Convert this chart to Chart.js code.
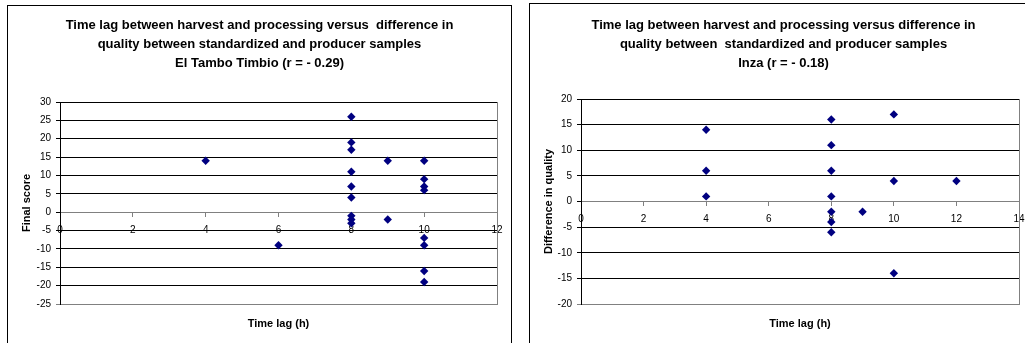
<!DOCTYPE html>
<html>
<head>
<meta charset="utf-8">
<script src="https://cdn.jsdelivr.net/npm/chart.js@4.4.1/dist/chart.umd.min.js"></script>
<style>
    body { margin: 0; background: #fff; overflow: hidden; }
    .chart-box { position: absolute; border: 1px solid #000; background: #fff; }
    #boxTambo { left: 7px; top: 5px; }
    #boxInza { left: 529px; top: 3px; }
    canvas { display: block; }
</style>
</head>
<body>
<div id="boxTambo" class="chart-box"><canvas id="tamboChart" width="503" height="339"></canvas></div>
<div id="boxInza" class="chart-box"><canvas id="inzaChart" width="507" height="341"></canvas></div>
<script>
// ************** Data: El Tambo Timbio
const tamboLag   = [4, 6, 8, 8, 8, 8, 8, 8, 8, 8, 8, 9, 9, 10, 10, 10, 10, 10, 10, 10, 10];
const tamboScore = [14, -9, 26, 19, 17, 11, 7, 4, -1, -2, -3, 14, -2, 14, 9, 7, 6, -7, -9, -16, -19];
const tamboXRange = [0, 12];
const tamboYRange = [-25, 30];

// ************** Data: Inza
const inzaLag  = [4, 4, 4, 8, 8, 8, 8, 8, 8, 8, 9, 10, 10, 10, 12];
const inzaDiff = [14, 6, 1, 16, 11, 6, 1, -2, -4, -6, -2, 17, 4, -14, 4];
const inzaXRange = [0, 14];
const inzaYRange = [-20, 20];

const xStep = 2;
const yStep = 5;

const tamboTitle = [
    'Time lag between harvest and processing versus  difference in',
    'quality between standardized and producer samples',
    'El Tambo Timbio (r = - 0.29)'
];
const inzaTitle = [
    'Time lag between harvest and processing versus difference in',
    'quality between  standardized and producer samples',
    'Inza (r = - 0.18)'
];
const xTitle = 'Time lag (h)';

Chart.defaults.font.family = "'Liberation Sans', Arial, sans-serif";
Chart.defaults.color = '#000';

function makeScatter(canvasId, cfg) {
    const points = cfg.x.map((v, i) => ({ x: v, y: cfg.y[i] }));
    return new Chart(document.getElementById(canvasId), {
        type: 'scatter',
        data: {
            datasets: [{
                data: points,
                pointStyle: 'rectRot',
                pointRadius: 4.2,
                pointHoverRadius: 4.2,
                pointBackgroundColor: '#000080',
                pointBorderColor: '#000080',
                pointBorderWidth: 0
            }]
        },
        options: {
            responsive: false,
            animation: false,
            layout: { padding: 0 },
            plugins: {
                legend: { display: false },
                tooltip: { enabled: false },
                title: {
                    display: true,
                    text: cfg.title,
                    color: '#000',
                    font: { size: 13, weight: 'bold', lineHeight: 19 / 13 },
                    padding: { top: cfg.titleTop, bottom: cfg.titleBottom }
                },
                subtitle: {
                    display: true,
                    position: 'bottom',
                    fullSize: false,
                    text: xTitle,
                    color: '#000',
                    font: { size: 11, weight: 'bold', lineHeight: 1.2 },
                    padding: { top: 13.4, bottom: 14.4 }
                }
            },
            scales: {
                x: {
                    type: 'linear',
                    position: { y: 0 },
                    min: cfg.xRange[0],
                    max: cfg.xRange[1],
                    ticks: { stepSize: xStep, font: { size: 10 }, padding: 8, maxRotation: 0 },
                    grid: { drawOnChartArea: false, tickLength: 4, color: '#808080' },
                    border: { color: '#808080' }
                },
                y: {
                    type: 'linear',
                    min: cfg.yRange[0],
                    max: cfg.yRange[1],
                    ticks: { stepSize: yStep, font: { size: 10 }, padding: 5 },
                    grid: {
                        tickLength: 4,
                        color: c => (c.tick && c.tick.value === cfg.yRange[0]) ? '#808080' : '#000'
                    },
                    border: { color: '#000' },
                    title: {
                        display: true,
                        text: cfg.yTitle,
                        color: '#000',
                        font: { size: 11, weight: 'bold', lineHeight: 1.2 },
                        padding: { top: cfg.yTitlePad, bottom: 0 }
                    },
                    afterFit: s => { s.width = cfg.axisWidth; }
                },
                // right edge of the plot area (grey frame), also keeps the space on the right
                yFrame: {
                    type: 'linear',
                    position: 'right',
                    min: cfg.yRange[0],
                    max: cfg.yRange[1],
                    ticks: { display: false },
                    grid: { drawOnChartArea: false, drawTicks: false },
                    border: { color: '#808080' },
                    afterFit: s => { s.width = cfg.padRight; }
                }
            }
        }
    });
}

makeScatter('tamboChart', {
    x: tamboLag, y: tamboScore,
    xRange: tamboXRange, yRange: tamboYRange,
    title: tamboTitle, yTitle: 'Final score',
    titleTop: 10, titleBottom: 29,
    padRight: 14, axisWidth: 52, yTitlePad: 12.4
});

makeScatter('inzaChart', {
    x: inzaLag, y: inzaDiff,
    xRange: inzaXRange, yRange: inzaYRange,
    title: inzaTitle, yTitle: 'Difference in quality',
    titleTop: 12, titleBottom: 26,
    padRight: 18, axisWidth: 51, yTitlePad: 12
});
</script>
</body>
</html>
